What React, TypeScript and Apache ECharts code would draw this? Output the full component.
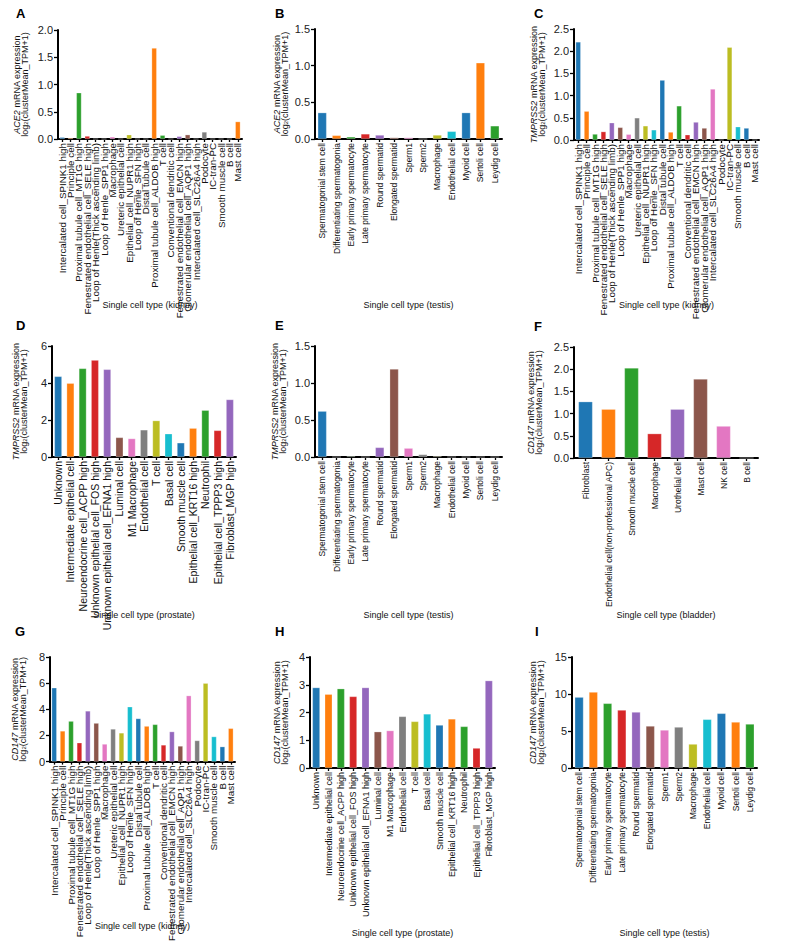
import React, { useEffect, useRef } from "react";
import * as echarts from "echarts";

// ---------- categories ----------
const kidneyCells = [
  "Intercalated cell_SPINK1 high",
  "Principle cell",
  "Proximal tubule cell_MT1G high",
  "Fenestrated endothelial cell_SELE high",
  "Loop of Henle(Thick ascending limb)",
  "Loop of Henle_SPP1 high",
  "Macrophage",
  "Ureteric epithelial cell",
  "Epithelial_cell_NUPR1 high",
  "Loop of Henle_SFN high",
  "Distal tubule cell",
  "Proximal tubule cell_ALDOB high",
  "T cell",
  "Conventional dendritic cell",
  "Fenestrated endothelial cell_EMCN high",
  "Glomerular endothelial cell_AQP1 high",
  "Intercalated cell_SLC26A4 high",
  "Podocyte",
  "IC-tran-PC",
  "Smooth muscle cell",
  "B cell",
  "Mast cell",
];

const testisCells = [
  "Spermatogonial stem cell",
  "Differentiating spermatogonia",
  "Early primary spermatocyte",
  "Late primary spermatocyte",
  "Round spermatid",
  "Elongated spermatid",
  "Sperm1",
  "Sperm2",
  "Macrophage",
  "Endothelial cell",
  "Myoid cell",
  "Sertoli cell",
  "Leydig cell",
];

const prostateCells = [
  "Unknown",
  "Intermediate epithelial cell",
  "Neuroendocrine cell_ACPP high",
  "Unknown epithelial cell_FOS high",
  "Unknown epithelial cell_EFNA1 high",
  "Luminal cell",
  "M1 Macrophage",
  "Endothelial cell",
  "T cell",
  "Basal cell",
  "Smooth muscle cell",
  "Epithelial cell_KRT16 high",
  "Neutrophil",
  "Epithelial cell_TPPP3 high",
  "Fibroblast_MGP high",
];

const bladderCells = [
  "Fibroblast",
  "Endothelial cell(non-professional APC)",
  "Smooth muscle cell",
  "Macrophage",
  "Urothelial cell",
  "Mast cell",
  "NK cell",
  "B cell",
];

// ---------- values: log2(clusterMean_TPM+1) ----------
const ace2Kidney = [0.035, 0.02, 0.85, 0.055, 0, 0, 0.04, 0, 0.08, 0, 0, 1.67, 0.07, 0, 0.05, 0.08, 0, 0.13, 0, 0, 0, 0.32];
const ace2Testis = [0.36, 0.05, 0.03, 0.07, 0.055, 0.02, 0.02, 0, 0.055, 0.105, 0.36, 1.04, 0.18];
const tmprss2Kidney = [2.21, 0.65, 0.135, 0.19, 0.39, 0.285, 0.13, 0.5, 0.32, 0.23, 1.35, 0.18, 0.77, 0.12, 0.405, 0.27, 1.15, 0, 2.09, 0.3, 0.27, 0];
const tmprss2Prostate = [4.36, 3.99, 4.79, 5.24, 4.74, 1.06, 1.0, 1.47, 1.97, 1.26, 0.77, 1.56, 2.53, 1.44, 3.11];
const tmprss2Testis = [0.62, 0, 0.01, 0, 0.13, 1.19, 0.12, 0.035, 0.01, 0, 0, 0, 0];
const cd147Bladder = [1.27, 1.1, 2.03, 0.55, 1.1, 1.78, 0.72, 0];
const cd147Kidney = [5.65, 2.35, 3.1, 1.45, 3.88, 2.95, 1.35, 2.5, 2.2, 4.2, 3.3, 2.72, 2.85, 1.28, 2.3, 1.2, 5.05, 1.62, 6.0, 1.92, 1.15, 2.55];
const cd147Prostate = [2.9, 2.66, 2.86, 2.58, 2.9, 1.31, 1.35, 1.86, 1.68, 1.95, 1.55, 1.77, 1.5, 0.72, 3.15];
const cd147Testis = [9.58, 10.27, 8.74, 7.84, 7.57, 5.68, 5.14, 5.54, 3.24, 6.58, 7.39, 6.22, 5.95];

// ---------- y-axis ticks ----------
const yMax = [2, 1.5, 2.5, 6, 1.5, 2.5, 8, 4, 15];
const yStep = [0.5, 0.5, 0.5, 2, 0.5, 0.5, 2, 1, 5];

const PALETTE = ["#1f77b4", "#ff7f0e", "#2ca02c", "#d62728", "#9467bd", "#8c564b", "#e377c2", "#7f7f7f", "#bcbd22", "#17becf"];
const FONT = "'Liberation Sans', Arial, Helvetica, sans-serif";

export default function App() {
  const ref = useRef<HTMLDivElement>(null);

  useEffect(() => {
    if (!ref.current) return;
    const chart = echarts.init(ref.current, undefined, { renderer: "svg" });

    const panels = [
      { letter: "A", gene: "ACE2", tissue: "kidney", cats: kidneyCells, vals: ace2Kidney, grid: [58, 30, 184, 109], gapY: 29, gapX: 161, lp: [16, 14], fs: 9.8 },
      { letter: "B", gene: "ACE2", tissue: "testis", cats: testisCells, vals: ace2Testis, grid: [315, 29, 187, 110], gapY: 26, gapX: 161, lp: [275, 14], fs: 8.5 },
      { letter: "C", gene: "TMPRSS2", tissue: "kidney", cats: kidneyCells, vals: tmprss2Kidney, grid: [574, 29, 185, 111], gapY: 28, gapX: 160, lp: [534, 14], fs: 9.8 },
      { letter: "D", gene: "TMPRSS2", tissue: "prostate", cats: prostateCells, vals: tmprss2Prostate, grid: [52, 346, 184, 111], gapY: 24, gapX: 153, lp: [16, 326], fs: 10.5 },
      { letter: "E", gene: "TMPRSS2", tissue: "testis", cats: testisCells, vals: tmprss2Testis, grid: [315, 346, 187, 111], gapY: 28, gapX: 153, lp: [275, 326], fs: 8.5 },
      { letter: "F", gene: "CD147", tissue: "bladder", cats: bladderCells, vals: cd147Bladder, grid: [574, 347, 184, 111], gapY: 31, gapX: 152, lp: [534, 327], fs: 8.5 },
      { letter: "G", gene: "CD147", tissue: "kidney", cats: kidneyCells, vals: cd147Kidney, grid: [50, 657, 185, 111], gapY: 23, gapX: 160, lp: [15, 632], fs: 9.8 },
      { letter: "H", gene: "CD147", tissue: "prostate", cats: prostateCells, vals: cd147Prostate, grid: [310, 657, 185, 111], gapY: 21, gapX: 160, lp: [275, 632], fs: 9 },
      { letter: "I", gene: "CD147", tissue: "testis", cats: testisCells, vals: cd147Testis, grid: [572, 657, 185, 111], gapY: 27, gapX: 160, lp: [535, 632], fs: 8.5 },
    ];

    const grids: any[] = [];
    const xAxes: any[] = [];
    const yAxes: any[] = [];
    const series: any[] = [];
    const graphics: any[] = [];

    panels.forEach((p, i) => {
      grids.push({ left: p.grid[0], top: p.grid[1], width: p.grid[2], height: p.grid[3], containLabel: false });
      const dec = yStep[i] < 1 ? 1 : 0;
      xAxes.push({
        type: "category",
        gridIndex: i,
        data: p.cats,
        name: `Single cell type (${p.tissue})`,
        nameLocation: "middle",
        nameGap: p.gapX,
        nameMoveOverlap: false,
        nameTextStyle: { fontFamily: FONT, fontSize: 9, color: "#111", verticalAlign: "top" },
        axisLine: { show: true, lineStyle: { color: "#000", width: 2 } },
        axisTick: { show: true, alignWithLabel: true, length: 3, lineStyle: { color: "#000", width: 1.3 } },
        axisLabel: { interval: 0, rotate: 90, fontFamily: FONT, fontSize: p.fs, color: "#111", margin: 4, hideOverlap: false, overflow: "none" },
      });
      yAxes.push({
        type: "value",
        gridIndex: i,
        min: 0,
        max: yMax[i],
        interval: yStep[i],
        name: `{g|${p.gene}} mRNA expression\nlog{s|2}(clusterMean_TPM+1)`,
        nameLocation: "middle",
        nameRotate: 90,
        nameGap: p.gapY,
        nameMoveOverlap: false,
        nameTextStyle: {
          fontFamily: FONT,
          fontSize: 9,
          color: "#111",
          lineHeight: 8,
          rich: {
            g: { fontFamily: FONT, fontSize: 9, fontStyle: "italic", color: "#111", lineHeight: 8 },
            s: { fontFamily: FONT, fontSize: 6, color: "#111", verticalAlign: "bottom", lineHeight: 6 },
          },
        },
        axisLine: { show: true, lineStyle: { color: "#000", width: 2 } },
        axisTick: { show: true, length: 4, lineStyle: { color: "#000", width: 1.3 } },
        splitLine: { show: false },
        axisLabel: {
          fontFamily: FONT,
          fontSize: 11,
          color: "#222",
          margin: 5,
          formatter: (v: number) => v.toFixed(dec),
        },
      });
      series.push({
        type: "bar",
        xAxisIndex: i,
        yAxisIndex: i,
        data: p.vals.map((v, j) => ({ value: v, itemStyle: { color: PALETTE[j % PALETTE.length] } })),
        barCategoryGap: "38%",
        itemStyle: { borderColor: "rgba(255,255,255,0.45)", borderWidth: 0.6 },
      });
      graphics.push({
        type: "text",
        left: p.lp[0],
        top: p.lp[1] - 7,
        style: { text: p.letter, fontFamily: FONT, fontSize: 13, fontWeight: "bold", fill: "#000" },
      });
    });

    chart.setOption({
      animation: false,
      backgroundColor: "#fff",
      grid: grids,
      xAxis: xAxes,
      yAxis: yAxes,
      series,
      graphic: graphics,
    });

    return () => chart.dispose();
  }, []);

  return (
    <div
      ref={ref}
      style={{ position: "absolute", left: 0, top: 0, width: 787, height: 944, background: "#fff" }}
    />
  );
}
